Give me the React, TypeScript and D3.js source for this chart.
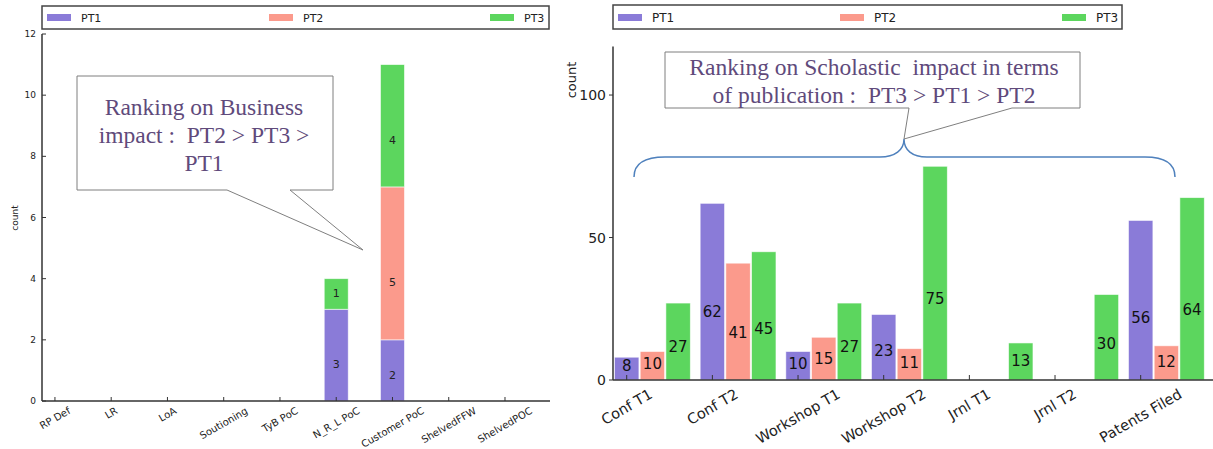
import * as React from 'react';
import * as d3 from 'd3';

// left panel: business impact
const leftCategories = ['RP Def', 'LR', 'LoA', 'Soutioning', 'TyB PoC', 'N_R_L PoC', 'Customer PoC', 'ShelvedFFW', 'ShelvedPOC'];
const leftPT1 = [0, 0, 0, 0, 0, 3, 2, 0, 0];
const leftPT2 = [0, 0, 0, 0, 0, 0, 5, 0, 0];
const leftPT3 = [0, 0, 0, 0, 0, 1, 4, 0, 0];
const leftYTicks = [0, 2, 4, 6, 8, 10, 12];

// right panel: scholastic impact
const rightCategories = ['Conf T1', 'Conf T2', 'Workshop T1', 'Workshop T2', 'Jrnl T1', 'Jrnl T2', 'Patents Filed'];
const rightPT1 = [8, 62, 10, 23, 0, 0, 56];
const rightPT2 = [10, 41, 15, 11, 0, 0, 12];
const rightPT3 = [27, 45, 27, 75, 13, 30, 64];
const rightYTicks = [0, 50, 100];

const seriesNames = ['PT1', 'PT2', 'PT3'];
const colors = ['#8a7bd8', '#fb9a8c', '#5cd65e'];

const leftNote = ['Ranking on Business', 'impact\u00a0:\u00a0\u00a0PT2 > PT3 >', 'PT1'];
const rightNote = ['Ranking on Scholastic\u00a0 impact in terms', 'of publication\u00a0:\u00a0\u00a0PT3 > PT1 > PT2'];

const FONT = 'DejaVu Sans, sans-serif';
const SERIF = 'Liberation Serif, Times New Roman, serif';
const AXIS = '#333';

// rotated tick labels, centred on the tick with their bbox top at `top`
const rotatedLabels = (g, labels, xs, top, size, angle) => {
	const rad = angle * Math.PI / 180;
	labels.forEach((lab, i) => {
		const t = g.append('text')
			.attr('font-family', FONT)
			.attr('font-size', size)
			.attr('fill', '#222')
			.attr('text-anchor', 'middle')
			.attr('dominant-baseline', 'central')
			.text(lab);
		const w = (t.node() as SVGTextElement).getComputedTextLength();
		const h = size * 1.1;
		const H = w * Math.sin(rad) + h * Math.cos(rad);
		t.attr('transform', `translate(${xs[i]},${top + H / 2}) rotate(${-angle})`);
	});
};

const legend = (svg, box, items, size) => {
	svg.append('rect')
		.attr('x', box[0]).attr('y', box[1])
		.attr('width', box[2] - box[0]).attr('height', box[3] - box[1])
		.attr('fill', 'white').attr('stroke', '#444').attr('stroke-width', 1.5);
	items.forEach((it, i) => {
		svg.append('rect')
			.attr('x', it).attr('y', 14).attr('width', 24).attr('height', 7)
			.attr('fill', colors[i]);
		svg.append('text')
			.attr('x', it + 34).attr('y', 18)
			.attr('dominant-baseline', 'central')
			.attr('font-family', FONT).attr('font-size', size).attr('fill', '#222')
			.text(seriesNames[i]);
	});
};

const drawLeft = (svg) => {
	const x = d3.scaleLinear().domain([-0.23, 8.8]).range([42, 550]);
	const y = d3.scaleLinear().domain([0, 12]).range([401, 34]);
	const g = svg.append('g');
	const barW = 24;

	const stacks = leftCategories.map((c, i) => [leftPT1[i], leftPT2[i], leftPT3[i]]);
	stacks.forEach((vals, i) => {
		let base = 0;
		vals.forEach((v, s) => {
			if (v > 0) {
				g.append('rect')
					.attr('x', x(i) - barW / 2)
					.attr('y', y(base + v))
					.attr('width', barW)
					.attr('height', y(base) - y(base + v))
					.attr('fill', colors[s])
					.attr('stroke', 'rgba(255,255,255,0.7)')
					.attr('stroke-width', 0.8);
				g.append('text')
					.attr('x', x(i))
					.attr('y', y(base + v * 0.34) - 5)
					.attr('text-anchor', 'middle')
					.attr('dominant-baseline', 'central')
					.attr('font-family', FONT).attr('font-size', 11).attr('fill', '#222')
					.text(v);
			}
			base += v;
		});
	});

	// spines
	g.append('line').attr('x1', 42).attr('x2', 42).attr('y1', y(12)).attr('y2', 401)
		.attr('stroke', AXIS).attr('stroke-width', 1.5);
	g.append('line').attr('x1', 42).attr('x2', 550).attr('y1', 401).attr('y2', 401)
		.attr('stroke', AXIS).attr('stroke-width', 1.5);

	leftYTicks.forEach(t => {
		g.append('line').attr('x1', 42).attr('x2', 46).attr('y1', y(t)).attr('y2', y(t))
			.attr('stroke', AXIS);
		g.append('text').attr('x', 36).attr('y', y(t))
			.attr('text-anchor', 'end').attr('dominant-baseline', 'central')
			.attr('font-family', FONT).attr('font-size', 9).attr('fill', '#222')
			.text(t);
	});
	leftCategories.forEach((c, i) => {
		g.append('line').attr('x1', x(i)).attr('x2', x(i)).attr('y1', 401).attr('y2', 397)
			.attr('stroke', AXIS);
	});
	rotatedLabels(g, leftCategories, leftCategories.map((c, i) => x(i)), 405, 10, 30);

	g.append('text')
		.attr('transform', 'translate(15,218) rotate(-90)')
		.attr('text-anchor', 'middle').attr('dominant-baseline', 'central')
		.attr('font-family', FONT).attr('font-size', 9).attr('fill', '#222')
		.text('count');

	legend(svg, [42, 6, 549, 29], [47, 269, 490], 11);

	// callout
	svg.append('path')
		.attr('d', 'M77,76 H333 V190 H290 L363,250 L227,190 H77 Z')
		.attr('fill', 'white').attr('stroke', '#7f7f7f').attr('stroke-width', 1);
	leftNote.forEach((line, i) => {
		svg.append('text')
			.attr('x', 204).attr('y', 115 + i * 28)
			.attr('text-anchor', 'middle')
			.attr('font-family', SERIF).attr('font-size', 23.5).attr('fill', '#604a7b')
			.text(line);
	});
};

const drawRight = (svg) => {
	const x = d3.scaleLinear().domain([-0.16, 6.85]).range([613, 1213.5]);
	const y = d3.scaleLinear().domain([0, 117]).range([380, 46.6]);
	const g = svg.append('g');
	const step = 0.3;
	const barW = x(0.285) - x(0);

	rightCategories.forEach((c, i) => {
		[rightPT1[i], rightPT2[i], rightPT3[i]].forEach((v, s) => {
			if (v <= 0) return;
			const cx = x(i + s * step);
			g.append('rect')
				.attr('x', cx - barW / 2)
				.attr('y', y(v))
				.attr('width', barW)
				.attr('height', y(0) - y(v))
				.attr('fill', colors[s])
				.attr('stroke', 'rgba(255,255,255,0.7)')
				.attr('stroke-width', 0.8);
			g.append('text')
				.attr('x', cx)
				.attr('y', y(v * 0.35 + 2))
				.attr('text-anchor', 'middle')
				.attr('dominant-baseline', 'central')
				.attr('font-family', FONT).attr('font-size', 15).attr('fill', '#111')
				.text(v);
		});
	});

	g.append('line').attr('x1', 613).attr('x2', 613).attr('y1', y(117)).attr('y2', 380)
		.attr('stroke', AXIS).attr('stroke-width', 1.5);
	g.append('line').attr('x1', 613).attr('x2', 1213).attr('y1', 380).attr('y2', 380)
		.attr('stroke', AXIS).attr('stroke-width', 1.5);

	rightYTicks.forEach(t => {
		g.append('line').attr('x1', 609).attr('x2', 613).attr('y1', y(t)).attr('y2', y(t))
			.attr('stroke', AXIS);
		g.append('text').attr('x', 606).attr('y', y(t))
			.attr('text-anchor', 'end').attr('dominant-baseline', 'central')
			.attr('font-family', FONT).attr('font-size', 14).attr('fill', '#222')
			.text(t);
	});
	rightCategories.forEach((c, i) => {
		g.append('line').attr('x1', x(i)).attr('x2', x(i)).attr('y1', 380).attr('y2', 375)
			.attr('stroke', AXIS);
	});
	rotatedLabels(g, rightCategories, rightCategories.map((c, i) => x(i)), 386, 14.5, 30);

	g.append('text')
		.attr('transform', 'translate(571,80) rotate(-90)')
		.attr('text-anchor', 'middle').attr('dominant-baseline', 'central')
		.attr('font-family', FONT).attr('font-size', 13).attr('fill', '#222')
		.text('count');

	legend(svg, [613, 5, 1122, 29], [618, 840, 1062], 12);

	// brace over the groups
	svg.append('path')
		.attr('d', 'M634,177 C634,163 645,157 665,157 L880,157 C895,157 904,150 904,139 C904,150 912,157 927,157 L1145,157 C1165,157 1175,163 1175,177')
		.attr('fill', 'none').attr('stroke', '#4f81bd').attr('stroke-width', 1.5);

	svg.append('path')
		.attr('d', 'M665,52 H1080 V108 H1012 L904,139 L909,108 H665 Z')
		.attr('fill', 'white').attr('stroke', '#7f7f7f').attr('stroke-width', 1);
	rightNote.forEach((line, i) => {
		svg.append('text')
			.attr('x', 874).attr('y', 75 + i * 28)
			.attr('text-anchor', 'middle')
			.attr('font-family', SERIF).attr('font-size', 23.5).attr('fill', '#604a7b')
			.text(line);
	});
};

export default function App() {
	const ref = React.useRef<SVGSVGElement>(null);

	React.useEffect(() => {
		const svg = d3.select(ref.current);
		svg.selectAll('*').remove();
		drawLeft(svg);
		drawRight(svg);
	}, []);

	return (
		<svg
			ref={ref}
			width={1213}
			height={449}
			style={{position: 'absolute', left: 0, top: 0, background: 'white'}}
		/>
	);
}
